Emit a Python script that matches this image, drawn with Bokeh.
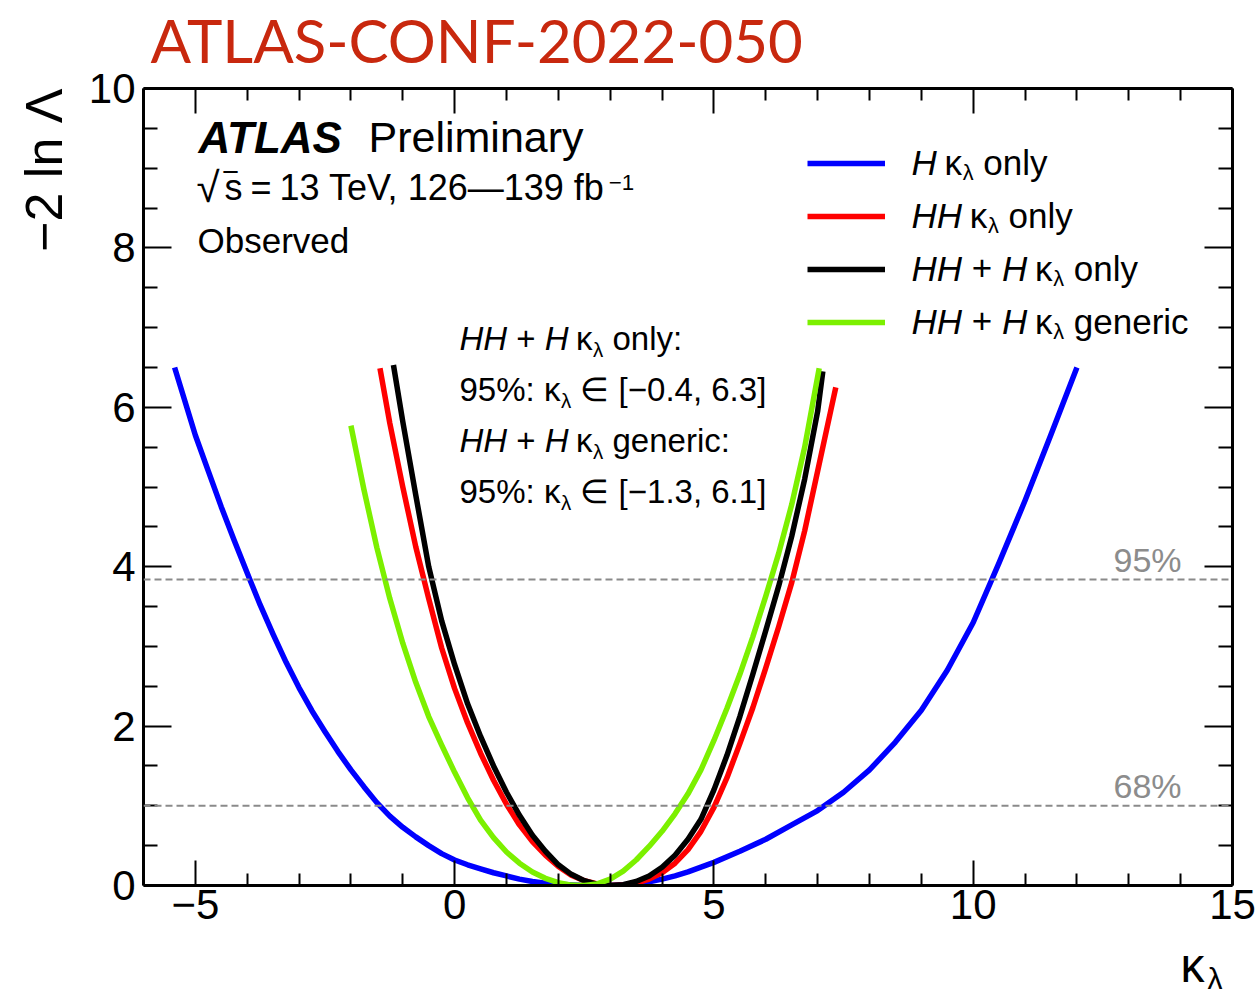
import math
from bokeh.plotting import figure
from bokeh.models import Range1d, FixedTicker, LinearAxis, Label, Span, Legend, LegendItem, Title
from bokeh.embed import file_html
from bokeh.resources import INLINE

# ---------------- data ----------------
h_only_x = [-5.4, -5.0, -4.75, -4.5, -4.25, -4.0, -3.75, -3.5, -3.25, -3.0, -2.75, -2.5, -2.25,
            -2.0, -1.75, -1.5, -1.25, -1.0, -0.75, -0.5, -0.25, 0.0, 0.25, 0.5, 0.75, 1.0, 1.25,
            1.5, 1.75, 2.0, 2.5, 3.0, 3.5, 3.75, 4.0, 4.25, 4.5, 4.75, 5.0, 5.5, 6.0, 6.5, 7.0,
            7.5, 8.0, 8.5, 9.0, 9.5, 10.0, 10.5, 11.0, 11.5, 12.0]
h_only_y = [6.5, 5.65, 5.2, 4.75, 4.33, 3.92, 3.52, 3.15, 2.8, 2.48, 2.19, 1.93, 1.68, 1.45, 1.24,
            1.04, 0.87, 0.73, 0.61, 0.5, 0.4, 0.32, 0.26, 0.21, 0.16, 0.12, 0.08, 0.05, 0.03,
            0.015, 0.0, 0.0, 0.02, 0.045, 0.08, 0.12, 0.17, 0.23, 0.29, 0.43, 0.58, 0.76, 0.94,
            1.17, 1.45, 1.8, 2.2, 2.7, 3.3, 4.05, 4.83, 5.66, 6.5]

hh_only_x = [-1.44, -1.25, -1.0, -0.75, -0.5, -0.25, 0.0, 0.25, 0.5, 0.75, 1.0, 1.25, 1.5, 1.75,
             2.0, 2.25, 2.5, 2.75, 3.0, 3.25, 3.5, 3.75, 4.0, 4.25, 4.5, 4.75, 5.0, 5.25, 5.5,
             5.75, 6.0, 6.25, 6.5, 6.75, 7.0, 7.25, 7.35]
hh_only_y = [6.49, 5.8, 5.0, 4.25, 3.6, 2.98, 2.47, 2.04, 1.66, 1.32, 1.02, 0.76, 0.55, 0.38,
             0.24, 0.13, 0.06, 0.02, 0.0, 0.005, 0.03, 0.08, 0.16, 0.28, 0.45, 0.68, 0.98, 1.35,
             1.78, 2.23, 2.73, 3.25, 3.8, 4.45, 5.2, 5.95, 6.25]

comb_only_x = [-1.18, -1.0, -0.75, -0.5, -0.25, 0.0, 0.25, 0.5, 0.75, 1.0, 1.25, 1.5, 1.75, 2.0,
               2.25, 2.5, 2.75, 3.0, 3.25, 3.5, 3.75, 4.0, 4.25, 4.5, 4.75, 5.0, 5.25, 5.5, 5.75,
               6.0, 6.25, 6.5, 6.75, 7.0, 7.1]
comb_only_y = [6.53, 5.82, 4.9, 4.0, 3.32, 2.77, 2.28, 1.87, 1.5, 1.17, 0.88, 0.63, 0.43, 0.26,
               0.14, 0.06, 0.015, 0.0, 0.01, 0.05, 0.12, 0.23, 0.38, 0.58, 0.83, 1.2, 1.63, 2.12,
               2.65, 3.2, 3.76, 4.38, 5.1, 5.95, 6.45]

comb_generic_x = [-2.0, -1.75, -1.5, -1.25, -1.0, -0.75, -0.5, -0.25, 0.0, 0.25, 0.5, 0.75, 1.0,
                  1.25, 1.5, 1.75, 2.0, 2.25, 2.5, 2.75, 3.0, 3.25, 3.5, 3.75, 4.0, 4.25, 4.5,
                  4.75, 5.0, 5.25, 5.5, 5.75, 6.0, 6.25, 6.5, 6.75, 7.03]
comb_generic_y = [5.77, 4.97, 4.24, 3.6, 3.04, 2.55, 2.12, 1.76, 1.42, 1.1, 0.82, 0.6, 0.42, 0.28,
                  0.17, 0.09, 0.035, 0.005, 0.0, 0.02, 0.08, 0.18, 0.32, 0.49, 0.68, 0.9, 1.15,
                  1.45, 1.82, 2.22, 2.65, 3.12, 3.63, 4.17, 4.78, 5.5, 6.49]

series_colors = ["#0000ff", "#ff0000", "#000000", "#7cf000"]

cl_levels = [3.84, 1.0]
cl_labels = ["95%", "68%"]

x_ticks = [-5, 0, 5, 10, 15]
x_tick_labels = ["\u22125", "0", "5", "10", "15"]
y_ticks = [0, 2, 4, 6, 8, 10]
y_tick_labels = ["0", "2", "4", "6", "8", "10"]

# ---------------- geometry helpers (canvas pixels -> data) ----------------
FL, FR, FT, FB = 143.0, 1232.0, 88.0, 885.0
XMIN, XMAX, YMIN, YMAX = -6.0, 15.0, 0.0, 10.0


def px2x(px):
    return XMIN + (px - FL) / (FR - FL) * (XMAX - XMIN)


def py2y(py):
    return YMIN + (FB - py) / (FB - FT) * (YMAX - YMIN)


TICKFONT = "Liberation Sans"

p = figure(width=1258, height=996, x_range=Range1d(XMIN, XMAX), y_range=Range1d(YMIN, YMAX),
           output_backend="svg", toolbar_location=None,
           min_border_left=143, min_border_right=26, min_border_top=88, min_border_bottom=111)
p.outline_line_color = None
p.xgrid.visible = False
p.ygrid.visible = False
p.background_fill_color = "white"
p.border_fill_color = "white"

x_minor = [v for v in range(-6, 16) if v % 5 != 0]
y_minor = [v * 0.5 for v in range(0, 21) if v % 4 != 0]


def style_axis(ax, major_in, minor_in, show_labels):
    ax.axis_line_width = 3
    ax.axis_line_color = "black"
    ax.major_tick_in = major_in
    ax.major_tick_out = 0
    ax.minor_tick_in = minor_in
    ax.minor_tick_out = 0
    ax.major_tick_line_width = 2
    ax.minor_tick_line_width = 2
    ax.major_tick_line_color = "black"
    ax.minor_tick_line_color = "black"
    ax.major_label_text_font = TICKFONT
    if show_labels:
        ax.major_label_text_font_size = "42px"
        ax.major_label_text_color = "black"
    else:
        ax.major_label_text_font_size = "1px"
        ax.major_label_text_color = None
        ax.major_label_standoff = 0


xa = p.xaxis[0]
xa.ticker = FixedTicker(ticks=x_ticks, minor_ticks=x_minor)
xa.major_label_overrides = {t: l for t, l in zip(x_ticks, x_tick_labels)}
style_axis(xa, 25, 12, True)
xa.major_label_standoff = 4

ya = p.yaxis[0]
ya.ticker = FixedTicker(ticks=y_ticks, minor_ticks=y_minor)
ya.major_label_overrides = {t: l for t, l in zip(y_ticks, y_tick_labels)}
style_axis(ya, 28, 14, True)
ya.major_label_standoff = 8

top_ax = LinearAxis(ticker=FixedTicker(ticks=x_ticks, minor_ticks=x_minor))
style_axis(top_ax, 25, 12, False)
p.add_layout(top_ax, "above")
right_ax = LinearAxis(ticker=FixedTicker(ticks=y_ticks, minor_ticks=y_minor))
style_axis(right_ax, 28, 14, False)
p.add_layout(right_ax, "right")

# y axis title
ytitle = Title(text="\u22122 ln \u039b", text_font=TICKFONT, text_font_size="52px",
               text_font_style="normal", text_color="black", align="right", standoff=25)
p.add_layout(ytitle, "left")

# ---------------- confidence-level lines ----------------
for lev in cl_levels:
    p.add_layout(Span(location=lev, dimension="width", line_color="#8a8a8a", line_width=2,
                      line_dash="7 4"))

# ---------------- curves ----------------
LW = 5.5
r_h = p.line(h_only_x, h_only_y, line_color=series_colors[0], line_width=LW, line_join="round")
r_hh = p.line(hh_only_x, hh_only_y, line_color=series_colors[1], line_width=LW, line_join="round")
r_c = p.line(comb_only_x, comb_only_y, line_color=series_colors[2], line_width=LW, line_join="round")
r_g = p.line(comb_generic_x, comb_generic_y, line_color=series_colors[3], line_width=LW,
             line_join="round")

legend = Legend(items=[LegendItem(label=" ", renderers=[r]) for r in (r_h, r_hh, r_c, r_g)],
                location=(664, 543), glyph_width=78, glyph_height=40, label_height=40,
                label_width=1, spacing=13, padding=0, margin=0, label_standoff=0,
                label_text_font_size="1px", border_line_color=None, background_fill_alpha=0)
p.add_layout(legend, "center")

# ---------------- rich text helpers ----------------
W = {' ': .278, '+': .584, '=': .584, 'H': .722, 'o': .556, 'n': .556, 'l': .222, 'y': .5,
     'g': .556, 'e': .556, 'r': .333, 'i': .222, 'c': .5, ':': .278, '%': .889, '[': .278,
     ']': .278, '\u2212': .584, '.': .278, ',': .278, '\u03ba': .52, '\u03bb': .5, '\u2208': .71,
     'T': .611, 'V': .667, 'f': .278, 'b': .556, 's': .5, '\u221a': .55, '\u2014': 1.0,
     'P': .667, 'm': .833, 'a': .556, 'O': .778, 'v': .5, 'd': .556, 'A': .722, 'L': .611,
     'S': .667, '\u203e': .5}
for d in "0123456789":
    W[d] = .556

BASE_SHIFT = 0.35  # rendered baseline sits this fraction of the size below the anchor


def tw(s, size):
    return sum(W.get(c, .556) for c in s) * size


def rich(x0, base, parts, size, color="black", font=TICKFONT, place="center"):
    cx = x0
    for text, style, scale, dy in parts:
        fs = size * scale
        stripped = text.strip(" ")
        lead = len(text) - len(text.lstrip(" "))
        if stripped:
            ax = cx + lead * W[' '] * fs
            p.add_layout(Label(x=px2x(ax), y=py2y(base + dy - BASE_SHIFT * fs), text=stripped,
                               text_font=font, text_font_style=style,
                               text_font_size=f"{fs:.1f}px", text_color=color,
                               text_align="left", text_baseline="alphabetic"), place)
        cx += tw(text, fs)
    return cx


K = ("\u03ba", "normal", 1.0, 0)
LSUB = ("\u03bb", "normal", 0.62, 6)


def kl_parts(prefix_parts, suffix):
    return prefix_parts + [(" ", "normal", 0.8, 0), K, LSUB, (suffix, "normal", 1.0, 0)]


H_I = ("H", "italic", 1.0, 0)
HH_I = ("HH", "italic", 1.0, 0)
PLUS = (" + ", "normal", 1.0, 0)

# legend texts
leg_rows = [
    kl_parts([H_I], " only"),
    kl_parts([HH_I], " only"),
    kl_parts([HH_I, PLUS, H_I], " only"),
    kl_parts([HH_I, PLUS, H_I], " generic"),
]
for i, parts in enumerate(leg_rows):
    rich(911, 174 + 53 * i, parts, 35)

# result block
blk = [
    kl_parts([HH_I, PLUS, H_I], " only:"),
    [("95%: ", "normal", 1.0, 0), K, LSUB, (" \u2208 [\u22120.4, 6.3]", "normal", 1.0, 0)],
    kl_parts([HH_I, PLUS, H_I], " generic:"),
    [("95%: ", "normal", 1.0, 0), K, LSUB, (" \u2208 [\u22121.3, 6.1]", "normal", 1.0, 0)],
]
for i, parts in enumerate(blk):
    rich(459, 350 + 51 * i, parts, 33)

# ATLAS label
rich(198, 152, [("ATLAS", "bold italic", 1.0, 0)], 44)
rich(368, 152, [("Preliminary", "normal", 1.0, 0)], 43)
rich(196, 202, [("\u221a", "normal", 1.0, 0)], 42)
rich(224, 200, [("s", "normal", 1.0, 0)], 36)
rich(224, 200, [("\u203e", "normal", 1.0, 0)], 36)
rich(250, 200, [("=", "normal", 1.0, 0)], 36)
end = rich(279, 200, [("13 TeV, 126\u2014139 fb", "normal", 1.0, 0)], 36)
rich(end - 3, 190, [("\u22121", "normal", 0.62, 0)], 36)
rich(197, 252, [("Observed", "normal", 1.0, 0)], 35)

# confidence-level labels
for lev, lab in zip(cl_levels, cl_labels):
    rich(1113, FB - (lev - YMIN) / (YMAX - YMIN) * (FB - FT) - 8, [(lab, "normal", 1.0, 0)], 34,
         color="#8c8c8c")

# texts outside the frame are hosted in side panels that have spare room
# (they are placed by data coordinates, so the hosting panel does not move them)
rich(150, 60, [("ATLAS-CONF-2022-050", "normal", 1.0, 0)], 60, color="#c8280e", font="Lato",
     place="below")
rich(1180, 982, [("\u03ba", "normal", 1.0, 0)], 48, place="above")
rich(1207, 988, [("\u03bb", "normal", 1.0, 0)], 30, place="above")

open("out.html", "w").write(file_html(p, INLINE))
